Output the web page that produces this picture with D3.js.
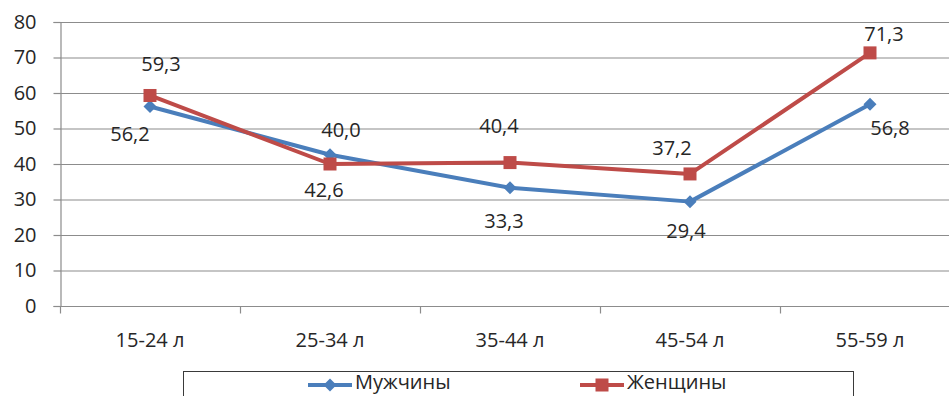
<!DOCTYPE html>
<html>
<head>
<meta charset="utf-8">
<script src="https://cdn.jsdelivr.net/npm/d3@7"></script>
<style>
  html, body { margin: 0; padding: 0; background: #fff; }
  svg { display: block; }
  text { font-family: "Open Sans", "DejaVu Sans", sans-serif; fill: #262626; }
</style>
</head>
<body>
<script>
// Age groups along the x axis
const categories = ["15-24 л", "25-34 л", "35-44 л", "45-54 л", "55-59 л"];
// Series values (per cent)
const menValues = [56.2, 42.6, 33.3, 29.4, 56.8];
const womenValues = [59.3, 40.0, 40.4, 37.2, 71.3];
const seriesNames = ["Мужчины", "Женщины"];
// Y axis ticks
const yTicks = [0, 10, 20, 30, 40, 50, 60, 70, 80];
// Manual nudges for the data labels, [dx, dy] from each point
const menLabelNudge = [[-20, 28], [-6, 35], [-6, 33], [-4, 29], [20, 24]];
const womenLabelNudge = [[11, -31], [11, -34], [-11, -37], [-18, -26], [14, -19]];

const W = 949, H = 396;
const svg = d3.select("body").append("svg").attr("width", W).attr("height", H);

const x = d3.scaleBand().domain(categories).range([60, 960]);
const y = d3.scaleLinear().domain([0, 80]).range([306, 22]);
const cx = d => x(d) + x.bandwidth() / 2;

const fmt = v => d3.format(".1f")(v).replace(".", ",");

// Horizontal gridlines
svg.append("g").selectAll("line").data(yTicks.filter(t => t > 0)).join("line")
  .attr("x1", 60).attr("x2", W)
  .attr("y1", d => y(d) + 0.5).attr("y2", d => y(d) + 0.5)
  .attr("stroke", "#8c8c8c").attr("stroke-width", 1.2);

// Y axis
const yAxis = svg.append("g").attr("transform", "translate(60.5,0)")
  .call(d3.axisLeft(y).tickValues(yTicks).tickSize(7).tickPadding(17).tickFormat(d3.format("d")));
yAxis.select(".domain").attr("stroke", "#8c8c8c").attr("stroke-width", 1.2);
yAxis.selectAll(".tick line").attr("stroke", "#8c8c8c").attr("stroke-width", 1.2);
yAxis.selectAll("text").style("font-size", "20px").attr("fill", "#262626")
  .attr("font-family", "Open Sans");

// X axis with ticks on band boundaries
const xAxisG = svg.append("g").attr("transform", "translate(0,306.5)");
xAxisG.append("line").attr("x1", 60).attr("x2", W).attr("y1", 0).attr("y2", 0)
  .attr("stroke", "#8c8c8c").attr("stroke-width", 1.2);
xAxisG.selectAll("line.tk").data(categories).join("line").attr("class", "tk")
  .attr("x1", d => x(d) + 0.5).attr("x2", d => x(d) + 0.5)
  .attr("y1", 0).attr("y2", 7)
  .attr("stroke", "#8c8c8c").attr("stroke-width", 1.2);
xAxisG.selectAll("text").data(categories).join("text")
  .attr("x", d => cx(d)).attr("y", 40)
  .attr("text-anchor", "middle").style("font-size", "20px")
  .text(d => d);

const blue = "#4a7ebb", red = "#be4b48";

const line = d3.line().x((d, i) => cx(categories[i])).y(d => y(d));

// Lines
svg.append("path").datum(menValues).attr("d", line)
  .attr("fill", "none").attr("stroke", blue).attr("stroke-width", 4).attr("stroke-linejoin", "round");
svg.append("path").datum(womenValues).attr("d", line)
  .attr("fill", "none").attr("stroke", red).attr("stroke-width", 4).attr("stroke-linejoin", "round");

// Markers
const diamond = (s) => `M0,${-s}L${s},0L0,${s}L${-s},0Z`;
svg.append("g").selectAll("path").data(menValues).join("path")
  .attr("transform", (d, i) => `translate(${cx(categories[i])},${y(d)})`)
  .attr("d", diamond(6.5)).attr("fill", blue);
svg.append("g").selectAll("rect").data(womenValues).join("rect")
  .attr("x", (d, i) => cx(categories[i]) - 6.5).attr("y", d => y(d) - 6.5)
  .attr("width", 13).attr("height", 13).attr("fill", red);

// Data labels
function labels(values, nudge) {
  svg.append("g").selectAll("text").data(values).join("text")
    .attr("x", (d, i) => cx(categories[i]) + nudge[i][0])
    .attr("y", (d, i) => y(d) + nudge[i][1])
    .attr("dy", "0.35em")
    .attr("text-anchor", "middle").style("font-size", "20px")
    .text(d => fmt(d));
}
labels(menValues, menLabelNudge);
labels(womenValues, womenLabelNudge);

// Legend
const lg = svg.append("g");
lg.append("rect").attr("x", 183.5).attr("y", 371.5).attr("width", 670).attr("height", 40)
  .attr("fill", "#fff").attr("stroke", "#3a3a3a").attr("stroke-width", 1);
const items = [
  { name: seriesNames[0], color: blue, x0: 308, shape: "diamond" },
  { name: seriesNames[1], color: red, x0: 580, shape: "square" }
];
items.forEach(it => {
  const g = lg.append("g").attr("transform", `translate(${it.x0},385)`);
  g.append("line").attr("x1", 0).attr("x2", 44).attr("y1", 0).attr("y2", 0)
    .attr("stroke", it.color).attr("stroke-width", 4);
  if (it.shape === "diamond") {
    g.append("path").attr("d", diamond(6.5)).attr("transform", "translate(22,0)").attr("fill", it.color);
  } else {
    g.append("rect").attr("x", 15.5).attr("y", -6.5).attr("width", 13).attr("height", 13).attr("fill", it.color);
  }
  g.append("text").attr("x", 47).attr("y", 4)
    .style("font-size", "20px").text(it.name);
});
</script>
</body>
</html>
